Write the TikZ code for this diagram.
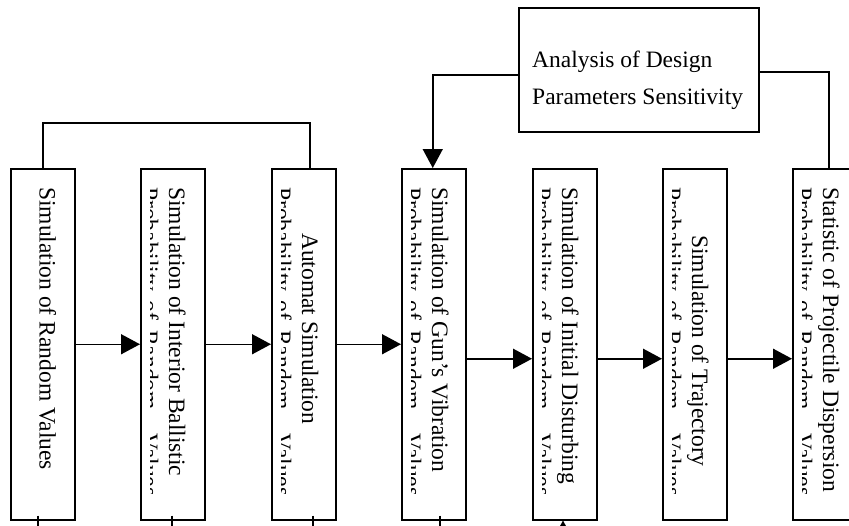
\documentclass[tikz,border=0pt]{standalone}
\usepackage{fontspec}
\setmainfont{Liberation Serif}
\usetikzlibrary{arrows.meta}
\tikzset{
  blk/.style={draw, line width=1.5pt, minimum width=64pt, minimum height=351pt, anchor=north west, inner sep=0pt},
  conn/.style={line width=1.5pt},
  arr/.style={conn, -{Triangle[length=19pt,width=20pt]}},
  txt/.style={inner sep=0pt, anchor=base west, font=\fontsize{23.5}{28}\selectfont},
  vlbl/.style={txt, rotate=-90},
}
\begin{document}
\begin{tikzpicture}[x=1pt, y=-1pt]
\useasboundingbox (0,0) rectangle (849,525);
\clip (0,0) rectangle (849,525);
% boxes
\node[blk] (b1) at (10,168) {};
\node[blk] (b2) at (140,168) {};
\node[blk] (b3) at (271,168) {};
\node[blk] (b4) at (401,168) {};
\node[blk] (b5) at (532,168) {};
\node[blk] (b6) at (662,168) {};
\node[blk] (b7) at (792,168) {};
\node[draw, line width=1.5pt, minimum width=240pt, minimum height=124pt, anchor=north west, inner sep=0pt] (an) at (518,7) {};
% labels
\node[txt] (an1) at (532,67) {Analysis of Design};
\node[txt] (an2) at (532,104) {Parameters Sensitivity};
\node[vlbl] (t1) at (39.5,187) {Simulation of Random Values};
\node[vlbl] (t2) at (169,187) {Simulation of Interior Ballistic};
\node[vlbl] (t3) at (302,233) {Automat Simulation};
\node[vlbl] (t4) at (432,187) {Simulation of Gun’s Vibration};
\node[vlbl] (t5) at (562,187) {Simulation of Initial Disturbing};
\node[vlbl] (t6) at (692,235) {Simulation of Trajectory};
\node[vlbl] (t7) at (823,187) {Statistic of Projectile Dispersion};
% clipped second lines
\foreach \bx/\bl in {140/142, 271/275, 401/405, 532/535, 662/665, 792/796}{
  \begin{scope}
    \clip (\bx+10,180) rectangle (\bx+60,493);
    \node[vlbl] at (\bl,187) {Probability\hspace{9pt}of\hspace{10pt}Random\hspace{24pt}Values};
  \end{scope}
}
% forward arrows
\draw[arr] (b1) -- (b2);
\draw[arr] (b2) -- (b3);
\draw[arr] (b3) -- (b4);
\draw[arr] ([yshift=-14.5pt]b4.east) -- ([yshift=-14.5pt]b5.west);
\draw[arr] ([yshift=-14.5pt]b5.east) -- ([yshift=-14.5pt]b6.west);
\draw[arr] ([yshift=-14.5pt]b6.east) -- ([yshift=-14.5pt]b7.west);
% top loop
\coordinate (l1) at (43,123);
\coordinate (l2) at (310,123);
\draw[conn] (b1.north -| l1) -- (l1) -- (l2) -- (b3.north -| l2);
% analysis connectors
\draw[arr] ([yshift=-5pt]an.west) -| ([xshift=-1pt]b4.north);
\draw[conn] ([yshift=-2pt]an.east) -| ([xshift=4pt]b7.north);
% bottom ticks
\coordinate (e1) at (38,530);
\coordinate (e2) at (172,530);
\coordinate (e3) at (313,530);
\coordinate (e4) at (440,530);
\coordinate (e5) at (563,545);
\draw[conn] (b1.south -| e1) ++(0,-5) -- (e1);
\draw[conn] (b2.south -| e2) ++(0,-5) -- (e2);
\draw[conn] (b3.south -| e3) ++(0,-5) -- (e3);
\draw[conn] (b4.south -| e4) ++(0,-5) -- (e4);
\draw[arr] (e5) -- (b5.south -| e5);
\end{tikzpicture}
\end{document}
